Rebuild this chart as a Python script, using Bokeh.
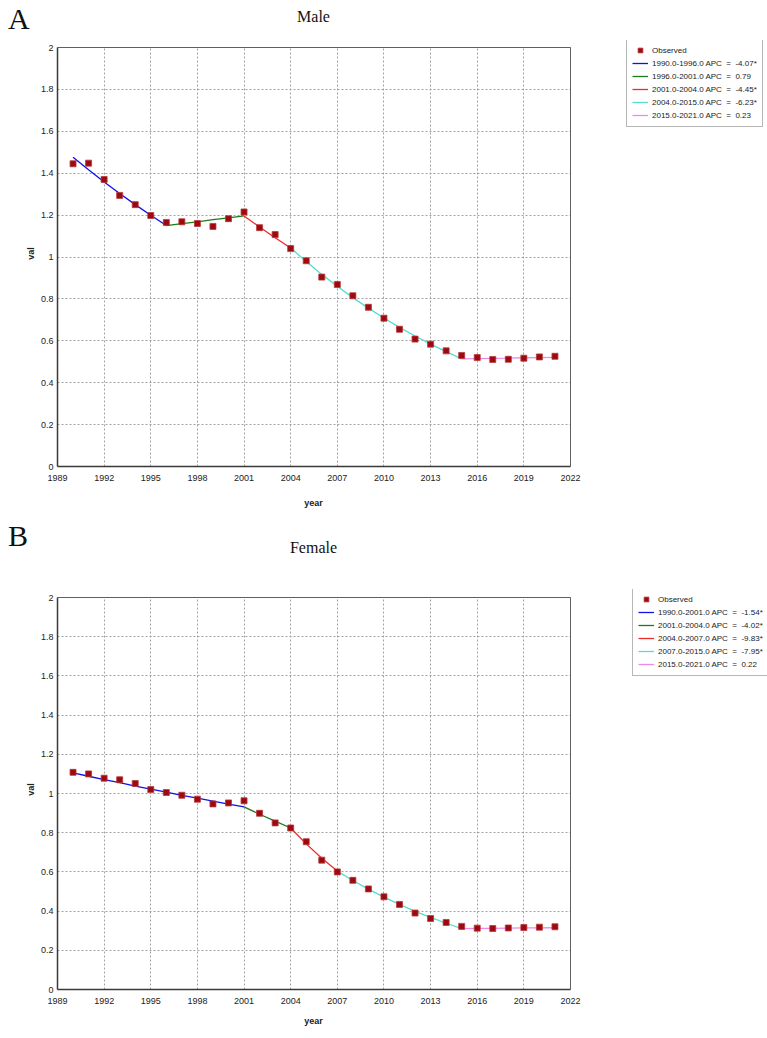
from bokeh.plotting import figure
from bokeh.layouts import column
from bokeh.models import Legend, LegendItem, FixedTicker, ColumnDataSource, Div
from bokeh.embed import file_html
from bokeh.resources import INLINE

# ---- data -------------------------------------------------------------
years = [1990, 1991, 1992, 1993, 1994, 1995, 1996, 1997, 1998, 1999, 2000,
         2001, 2002, 2003, 2004, 2005, 2006, 2007, 2008, 2009, 2010, 2011,
         2012, 2013, 2014, 2015, 2016, 2017, 2018, 2019, 2020, 2021]

male_observed = [1.445, 1.448, 1.370, 1.294, 1.250, 1.198, 1.165, 1.168, 1.160,
                 1.146, 1.183, 1.215, 1.140, 1.107, 1.040, 0.982, 0.904, 0.869,
                 0.815, 0.760, 0.708, 0.655, 0.608, 0.584, 0.552, 0.530, 0.520,
                 0.511, 0.512, 0.517, 0.523, 0.526]
male_fitted = [1.476, 1.416, 1.358, 1.303, 1.250, 1.199, 1.150, 1.159, 1.168,
               1.178, 1.187, 1.196, 1.143, 1.092, 1.043, 0.978, 0.917, 0.860,
               0.806, 0.756, 0.709, 0.664, 0.623, 0.584, 0.548, 0.514, 0.515,
               0.516, 0.517, 0.519, 0.520, 0.521]
male_joinpoints = [1990, 1996, 2001, 2004, 2015, 2021]
male_labels = ["1990.0-1996.0 APC  =  -4.07*",
               "1996.0-2001.0 APC  =  0.79",
               "2001.0-2004.0 APC  =  -4.45*",
               "2004.0-2015.0 APC  =  -6.23*",
               "2015.0-2021.0 APC  =  0.23"]

female_observed = [1.108, 1.100, 1.078, 1.070, 1.051, 1.020, 1.005, 0.991, 0.971,
                   0.947, 0.952, 0.963, 0.899, 0.850, 0.824, 0.754, 0.660, 0.600,
                   0.557, 0.513, 0.473, 0.434, 0.390, 0.362, 0.342, 0.322, 0.313,
                   0.311, 0.314, 0.316, 0.318, 0.320]
female_fitted = [1.105, 1.088, 1.071, 1.055, 1.038, 1.022, 1.007, 0.991, 0.976,
                 0.961, 0.946, 0.932, 0.894, 0.859, 0.824, 0.743, 0.670, 0.604,
                 0.556, 0.512, 0.471, 0.434, 0.399, 0.368, 0.338, 0.311, 0.312,
                 0.312, 0.313, 0.314, 0.314, 0.315]
female_joinpoints = [1990, 2001, 2004, 2007, 2015, 2021]
female_labels = ["1990.0-2001.0 APC  =  -1.54*",
                 "2001.0-2004.0 APC  =  -4.02*",
                 "2004.0-2007.0 APC  =  -9.83*",
                 "2007.0-2015.0 APC  =  -7.95*",
                 "2015.0-2021.0 APC  =  0.22"]

segment_colors = ["#1010ee", "#1f7a1f", "#ee2a2a", "#55dccf", "#ee88ee"]
x_ticks = [1989, 1992, 1995, 1998, 2001, 2004, 2007, 2010, 2013, 2016, 2019, 2022]
y_ticks = [0, 0.2, 0.4, 0.6, 0.8, 1, 1.2, 1.4, 1.6, 1.8, 2]

SANS = "Liberation Sans"
SERIF = "Liberation Serif"
W = 767
LEFT = 57          # left border (axis area)
PLOT_W = 513       # width of the plotting box in pixels
BOX_CENTER_W = 2 * LEFT + PLOT_W   # width whose centre is the box centre


def header(letter, title, height, letter_top, title_top):
    """Panel letter and chart title above a chart."""
    html = (
        f'<div style="position:relative;width:{W}px;height:{height}px;'
        f'font-family:\'{SERIF}\',serif;color:#111111;">'
        f'<span style="position:absolute;left:8px;top:{letter_top}px;'
        f'font-size:30px;line-height:30px;">{letter}</span>'
        f'<span style="position:absolute;left:0px;width:{BOX_CENTER_W}px;'
        f'text-align:center;top:{title_top}px;font-size:16px;'
        f'line-height:18px;">{title}</span></div>'
    )
    return Div(text=html, width=W, height=height, margin=0)


def footer(text, height, top):
    """x-axis title centred under the plotting box."""
    html = (
        f'<div style="position:relative;width:{W}px;height:{height}px;'
        f'font-family:\'{SANS}\',sans-serif;color:#222222;">'
        f'<span style="position:absolute;left:0px;width:{BOX_CENTER_W}px;'
        f'text-align:center;top:{top}px;font-size:9px;font-weight:bold;'
        f'line-height:11px;">{text}</span></div>'
    )
    return Div(text=html, width=W, height=height, margin=0)


def chart(observed, fitted, joinpoints, labels, frame_top, box_top, box_h,
          bottom, legend_left, legend_bottom):
    """The frame spans the whole width right of the y axis so the legend can
    sit beside the plotting box; axes, grid and box are bounded to it."""
    x0, x1 = x_ticks[0], x_ticks[-1]
    y0, y1 = y_ticks[0], y_ticks[-1]
    frame_w = W - LEFT
    frame_h = box_top - frame_top + box_h
    x_end = x0 + frame_w * (x1 - x0) / PLOT_W
    y_end = y1 + (box_top - frame_top) * (y1 - y0) / box_h
    height = frame_top + frame_h + bottom

    p = figure(width=W, height=height, x_range=(x0, x_end), y_range=(y0, y_end),
               output_backend="svg", toolbar_location=None,
               min_border_left=LEFT, min_border_right=0,
               min_border_top=frame_top, min_border_bottom=bottom)
    p.background_fill_color = "white"
    p.outline_line_color = None

    for ax in (p.xaxis[0], p.yaxis[0]):
        ax.axis_line_color = "#3a3a3a"
        ax.axis_line_width = 1.5
        ax.major_tick_out = 0
        ax.major_tick_in = 0
        ax.minor_tick_out = 0
        ax.minor_tick_in = 0
        ax.major_label_text_font = SANS
        ax.major_label_text_font_size = "9px"
        ax.major_label_text_color = "#222222"
        ax.axis_label_text_font = SANS
        ax.axis_label_text_font_size = "9px"
        ax.axis_label_text_font_style = "bold"
        ax.axis_label_text_color = "#222222"

    p.xaxis.ticker = FixedTicker(ticks=x_ticks)
    p.yaxis.ticker = FixedTicker(ticks=y_ticks)
    p.xaxis.bounds = (x0, x1)
    p.yaxis.bounds = (y0, y1)
    p.yaxis.major_label_overrides = {0: "0", 1: "1", 2: "2"}
    p.yaxis.axis_label = "val"
    p.xaxis.major_label_standoff = 8
    p.yaxis.major_label_standoff = 4
    p.yaxis.axis_label_standoff = 2

    p.xgrid.cross_bounds = (y0, y1)
    p.ygrid.cross_bounds = (x0, x1)
    for g in (p.xgrid[0], p.ygrid[0]):
        g.grid_line_color = "#a0a0a0"
        g.grid_line_dash = "2 2"
        g.grid_line_width = 1

    # border of the plotting box
    p.quad(left=[x0], right=[x1], bottom=[y0], top=[y1], fill_color=None,
           line_color="#606060", line_width=1)

    # fitted joinpoint segments, one colour each
    line_renderers = []
    for i in range(len(joinpoints) - 1):
        a = years.index(joinpoints[i])
        b = years.index(joinpoints[i + 1])
        src = ColumnDataSource(dict(x=years[a:b + 1], y=fitted[a:b + 1]))
        r = p.line("x", "y", source=src, line_color=segment_colors[i],
                   line_width=1.3)
        line_renderers.append(r)

    obs = p.scatter(years, observed, marker="square", size=6,
                    fill_color="#9c0a10", line_color="#b83a3a", line_width=0.8)

    items = [LegendItem(label="Observed", renderers=[obs])]
    for r, lab in zip(line_renderers, labels):
        items.append(LegendItem(label=lab, renderers=[r]))

    legend = Legend(items=items,
                    location=(legend_left - LEFT, box_top + box_h - legend_bottom),
                    label_text_font=SANS, label_text_font_size="8px",
                    label_text_color="#222222",
                    glyph_width=16, glyph_height=12, label_height=12,
                    spacing=1, padding=5, margin=0, label_standoff=4,
                    border_line_color="#707070", border_line_width=1,
                    background_fill_color="white", background_fill_alpha=1)
    p.add_layout(legend, "center")
    return p


male_head = header("A", "Male", 36, 4, 8)
male = chart(male_observed, male_fitted, male_joinpoints, male_labels,
             frame_top=4, box_top=11, box_h=419, bottom=24,
             legend_left=626, legend_bottom=91)
male_foot = footer("year", 29, 8)

female_head = header("B", "Female", 61, 2, 20)
female = chart(female_observed, female_fitted, female_joinpoints,
               female_labels, frame_top=9, box_top=17, box_h=392, bottom=24,
               legend_left=632, legend_bottom=96)
female_foot = footer("year", 25, 3)

layout = column(male_head, male, male_foot, female_head, female, female_foot,
                spacing=0)
open("out.html", "w").write(file_html(layout, INLINE))
